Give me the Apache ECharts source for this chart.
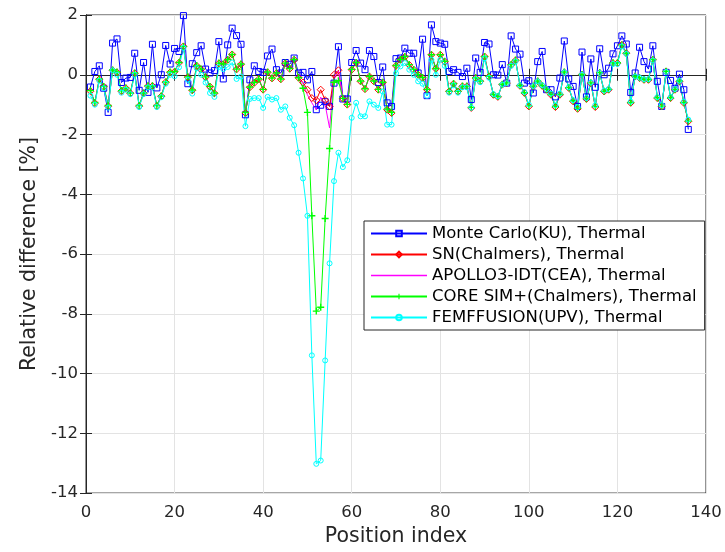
<!DOCTYPE html>
<html>
<head>
<meta charset="utf-8">
<script src="https://cdn.jsdelivr.net/npm/echarts@6/dist/echarts.min.js"></script>
<style>html,body{margin:0;padding:0;background:#fff}#c{width:725px;height:552px}</style>
</head>
<body>
<div id="c"></div>
<script>
var seriesNames = ['Monte Carlo(KU), Thermal','SN(Chalmers), Thermal','APOLLO3-IDT(CEA), Thermal','CORE SIM+(Chalmers), Thermal','FEMFFUSION(UPV), Thermal'];
var xTicks = [0,20,40,60,80,100,120,140];
var yTicks = [-14,-12,-10,-8,-6,-4,-2,0,2];

var monteCarlo = [-0.41,0.11,0.30,-0.45,-1.26,1.06,1.20,-0.26,-0.11,-0.09,
0.72,-0.52,0.41,-0.59,1.02,-0.44,0.00,0.98,0.36,0.88,
0.78,1.98,-0.30,0.37,0.74,0.97,0.19,0.06,0.14,1.11,
-0.14,1.00,1.56,1.31,1.02,-1.34,-0.17,0.30,0.11,0.08,
0.63,0.86,0.17,0.06,0.41,0.35,0.56,0.06,0.08,-0.17,
0.11,-1.17,-1.02,-0.90,-1.06,-0.28,0.94,-0.81,-0.81,0.41,
0.81,0.39,0.17,0.81,0.61,-0.26,0.26,-0.94,-1.06,0.54,
0.56,0.89,0.72,0.72,0.06,1.19,-0.70,1.67,1.11,1.06,
1.02,0.11,0.17,0.08,-0.06,0.22,-0.83,0.56,0.08,1.08,
1.03,0.00,-0.01,0.34,-0.28,1.30,0.86,0.69,-0.28,-0.20,
-0.61,0.44,0.78,-0.50,-0.50,-0.74,-0.11,1.13,-0.14,-0.39,
-1.06,0.76,-0.74,0.53,-0.42,0.87,0.00,0.22,0.70,0.97,
1.30,1.03,-0.59,0.06,0.92,0.44,0.19,0.97,-0.22,-1.06,
0.08,-0.19,-0.45,0.02,-0.50,-1.83];

var snChalmers = [-0.55,-0.95,-0.15,-0.40,-1.05,0.15,0.08,-0.55,-0.45,-0.62,
0.05,-1.05,-0.62,-0.38,-0.38,-1.05,-0.72,-0.25,0.08,0.10,
0.40,0.95,-0.08,-0.52,0.30,0.18,-0.08,-0.40,-0.62,0.38,
0.35,0.50,0.68,0.18,0.35,-1.28,-0.42,-0.27,-0.15,-0.50,
0.08,-0.12,0.05,-0.15,0.38,0.20,0.50,-0.10,-0.26,-0.50,
-0.78,-0.85,-0.50,-0.85,-1.06,0.00,0.15,-0.80,-1.00,0.17,
0.40,-0.22,-0.48,-0.06,-0.22,-0.50,-0.26,-1.17,-1.28,0.30,
0.50,0.60,0.33,0.17,0.00,-0.10,-0.50,0.67,0.20,0.67,
0.44,-0.56,-0.30,-0.56,-0.39,-0.39,-1.11,-0.11,-0.22,0.61,
-0.06,-0.67,-0.74,-0.33,-0.28,0.33,0.48,-0.37,-0.61,-1.06,
-0.39,-0.22,-0.37,-0.50,-0.67,-1.08,-0.67,0.08,-0.44,-0.89,
-1.14,0.00,-0.81,-0.28,-1.08,0.06,-0.56,-0.50,0.39,0.39,
1.00,0.72,-0.94,-0.06,-0.11,-0.17,-0.17,0.50,-0.78,-1.06,
0.11,-0.78,-0.50,-0.22,-0.94,-1.56];

var apollo3 = [-0.52,-0.92,-0.13,-0.38,-1.02,0.17,0.10,-0.52,-0.43,-0.60,
0.07,-1.02,-0.60,-0.36,-0.36,-1.02,-0.70,-0.23,0.10,0.12,
0.42,0.96,-0.06,-0.50,0.32,0.20,-0.06,-0.38,-0.60,0.40,
0.37,0.52,0.69,0.20,0.37,-1.25,-0.40,-0.25,-0.13,-0.48,
0.10,-0.10,0.07,-0.13,0.40,0.22,0.52,-0.08,-0.30,-0.67,
-0.94,-1.17,-0.75,-1.00,-1.78,-0.10,0.12,-0.78,-0.98,0.19,
0.42,-0.20,-0.46,-0.04,-0.20,-0.48,-0.24,-1.14,-1.25,0.32,
0.52,0.62,0.35,0.19,0.02,-0.08,-0.48,0.68,0.22,0.68,
0.46,-0.54,-0.28,-0.54,-0.37,-0.37,-1.08,-0.09,-0.20,0.62,
-0.04,-0.65,-0.72,-0.31,-0.26,0.35,0.50,-0.35,-0.59,-1.03,
-0.37,-0.20,-0.35,-0.48,-0.65,-1.05,-0.65,0.10,-0.42,-0.86,
-1.11,0.02,-0.79,-0.26,-1.05,0.08,-0.54,-0.48,0.41,0.41,
1.01,0.73,-0.92,-0.04,-0.09,-0.15,-0.15,0.52,-0.76,-1.04,
0.13,-0.76,-0.48,-0.20,-0.92,-1.54];

var coreSim = [-0.53,-0.93,-0.14,-0.39,-1.03,0.16,0.09,-0.53,-0.44,-0.61,
0.06,-1.03,-0.61,-0.37,-0.37,-1.03,-0.71,-0.24,0.09,0.11,
0.41,0.95,-0.07,-0.51,0.31,0.19,-0.07,-0.39,-0.61,0.39,
0.36,0.51,0.68,0.19,0.36,-1.26,-0.41,-0.26,-0.14,-0.49,
0.09,-0.11,0.06,-0.14,0.39,0.21,0.51,-0.10,-0.45,-1.26,
-4.72,-7.91,-7.78,-4.81,-2.47,-0.25,-0.20,-0.79,-0.99,0.18,
0.41,-0.21,-0.47,-0.05,-0.21,-0.49,-0.25,-1.15,-1.26,0.31,
0.51,0.61,0.34,0.18,0.01,-0.09,-0.49,0.67,0.21,0.67,
0.45,-0.55,-0.29,-0.55,-0.38,-0.38,-1.09,-0.10,-0.21,0.61,
-0.05,-0.66,-0.73,-0.32,-0.27,0.34,0.49,-0.36,-0.60,-1.04,
-0.38,-0.21,-0.36,-0.49,-0.66,-1.06,-0.66,0.09,-0.43,-0.87,
-1.12,0.01,-0.80,-0.27,-1.06,0.07,-0.55,-0.49,0.40,0.40,
1.00,0.72,-0.93,-0.05,-0.10,-0.16,-0.16,0.51,-0.77,-1.05,
0.12,-0.77,-0.49,-0.21,-0.93,-1.55];

var femffusion = [-0.70,-1.00,-0.20,-0.45,-1.10,0.15,0.00,-0.60,-0.50,-0.65,
0.00,-1.08,-0.65,-0.42,-0.42,-1.08,-0.75,-0.30,0.00,-0.05,
0.25,0.90,-0.17,-0.63,0.22,0.00,-0.26,-0.61,-0.74,0.26,
0.19,0.26,0.41,-0.14,-0.06,-1.72,-0.81,-0.78,-0.78,-1.11,
-0.74,-0.83,-0.78,-1.17,-1.06,-1.44,-1.69,-2.61,-3.47,-4.72,
-9.39,-13.02,-12.91,-9.56,-6.31,-3.56,-2.61,-3.09,-2.86,-1.44,
-0.94,-1.39,-1.39,-0.89,-1.00,-1.11,-0.56,-1.67,-1.67,0.05,
0.28,0.39,0.17,0.00,-0.22,-0.30,-0.70,0.50,0.00,0.50,
0.30,-0.60,-0.35,-0.60,-0.42,-0.42,-1.10,-0.15,-0.25,0.55,
-0.10,-0.65,-0.72,-0.33,-0.28,0.30,0.45,-0.35,-0.58,-1.00,
-0.38,-0.22,-0.35,-0.48,-0.63,-1.02,-0.63,0.08,-0.42,-0.85,
-1.08,0.00,-0.78,-0.26,-1.02,0.06,-0.53,-0.48,0.36,0.36,
0.95,0.70,-0.90,-0.06,-0.10,-0.15,-0.15,0.48,-0.75,-1.02,
0.10,-0.75,-0.48,-0.20,-0.90,-1.50];

var positionIndex = monteCarlo.map(function(_, k){ return k + 1; });
function pairs(vals){ return vals.map(function(v, k){ return [positionIndex[k], v]; }); }

var FONT = 'DejaVu Sans';
var AX = '#262626';
var plus = 'path://M4,0L6,0L6,4L10,4L10,6L6,6L6,10L4,10L4,6L0,6L0,4L4,4Z';

function mk(name, vals, color, symbol, size, hollow){
  return {
    name: name, type: 'line', data: pairs(vals),
    symbol: symbol, symbolSize: size, showSymbol: size > 0,
    lineStyle: {color: color, width: 1},
    itemStyle: hollow ? {color: 'rgba(255,255,255,0)', borderColor: color, borderWidth: 1} : {color: color, borderWidth: 0},
    emphasis: {disabled: true}, animation: false
  };
}

var chart = echarts.init(document.getElementById('c'), null, {renderer: 'canvas'});
chart.setOption({
  backgroundColor: '#fff',
  animation: false,
  grid: {left: 86, top: 15, right: 19, bottom: 57, show: true, borderColor: AX, borderWidth: 1, backgroundColor: 'transparent'},
  xAxis: [{
    type: 'value', min: xTicks[0], max: xTicks[xTicks.length-1], interval: 20,
    name: 'Position index', nameLocation: 'middle', nameGap: 30,
    nameTextStyle: {fontFamily: FONT, fontSize: 20.5, color: AX},
    axisLine: {show: true, lineStyle: {color: AX, width: 1}},
    axisTick: {show: true, inside: true, length: 6, lineStyle: {color: AX}},
    axisLabel: {fontFamily: FONT, fontSize: 16.5, color: AX, margin: 11},
    splitLine: {show: true, lineStyle: {color: '#e3e3e3', width: 1}}
  },{
    type: 'value', position: 'top', min: 0, max: 140, interval: 20,
    axisLine: {show: true, lineStyle: {color: AX}},
    axisTick: {show: true, inside: true, length: 6, lineStyle: {color: AX}},
    axisLabel: {show: false}, splitLine: {show: false}
  }],
  yAxis: [{
    type: 'value', min: yTicks[0], max: yTicks[yTicks.length-1], interval: 2,
    name: 'Relative difference [%]', nameLocation: 'middle', nameGap: 43,
    nameTextStyle: {fontFamily: FONT, fontSize: 20.5, color: AX},
    axisLine: {show: true, lineStyle: {color: AX, width: 1}},
    axisTick: {show: true, inside: true, length: 6, lineStyle: {color: AX}},
    axisLabel: {fontFamily: FONT, fontSize: 16.5, color: AX, margin: 8},
    splitLine: {show: true, lineStyle: {color: '#e3e3e3', width: 1}}
  },{
    type: 'value', position: 'right', min: -14, max: 2, interval: 2,
    axisLine: {show: true, lineStyle: {color: AX}},
    axisTick: {show: true, inside: true, length: 6, lineStyle: {color: AX}},
    axisLabel: {show: false}, splitLine: {show: false}
  }],
  legend: {
    orient: 'vertical', left: 364, top: 221,
    padding: [4, 8, 4, 6], itemGap: 4, itemWidth: 56, itemHeight: 7,
    backgroundColor: '#fff', borderColor: AX, borderWidth: 1, borderRadius: 0,
    textStyle: {fontFamily: FONT, fontSize: 16.5, color: '#000'},
    data: [
      seriesNames[0], seriesNames[1],
      {name: seriesNames[2], icon: 'path://M0,0L56,0L56,1.3L0,1.3Z',
       itemStyle: {color: '#ff00ff', borderColor: '#ff00ff', borderWidth: 0, opacity: 1}},
      seriesNames[3], seriesNames[4]
    ]
  },
  series: [
    mk(seriesNames[0], monteCarlo, '#0000ff', 'rect', 6, true),
    mk(seriesNames[1], snChalmers, '#ff0000', 'diamond', 7, true),
    mk(seriesNames[2], apollo3, '#ff00ff', 'circle', 0, false),
    mk(seriesNames[3], coreSim, '#00ff00', plus, 7, false),
    mk(seriesNames[4], femffusion, '#00ffff', 'circle', 5, true)
  ]
});
</script>
</body>
</html>
